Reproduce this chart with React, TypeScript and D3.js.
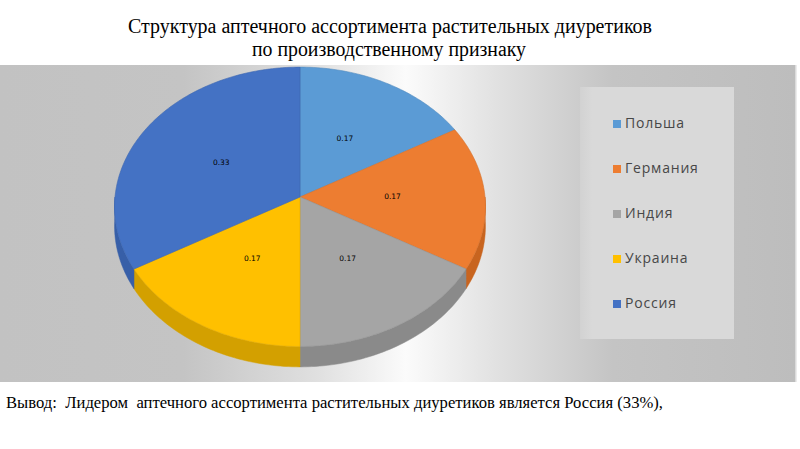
import { FC, useEffect, useRef } from 'react';
import * as d3 from 'd3';

const countries = ['Польша', 'Германия', 'Индия', 'Украина', 'Россия'];
// number of products per country of origin (labels show the share: 0.17 / 0.33)
const productCounts = [1, 1, 1, 1, 2];
const topColors = ['#5B9BD5', '#ED7D31', '#A5A5A5', '#FFC000', '#4472C4'];
const sideColors = ['#4a86bd', '#c8641f', '#8a8a8a', '#d3a000', '#375fa8'];
const titleLines = [
  'Структура аптечного ассортимента растительных диуретиков',
  'по производственному признаку',
];
const conclusion = 'Вывод:  Лидером  аптечного ассортимента растительных диуретиков является Россия (33%),';

const W = 800;
const H = 449;

const App: FC = () => {
  const svgRef = useRef<SVGSVGElement>(null);

  useEffect(() => {
    if (!svgRef.current) return;
    const svg = d3.select(svgRef.current);
    svg.selectAll('*').remove();

    const defs = svg.append('defs');

    // background band gradient (bright stripe behind the pie's right half)
    const bg = defs.append('linearGradient')
      .attr('id', 'band-grad')
      .attr('x1', 0).attr('y1', 0).attr('x2', 1).attr('y2', 0);
    [
      [0, '#c2c2c2'], [0.23, '#c4c4c4'], [0.4, '#e0e0e0'], [0.51, '#fbfbfb'],
      [0.62, '#e2e2e2'], [0.77, '#c4c4c4'], [1, '#bdbdbd'],
    ].forEach(([o, c]) => bg.append('stop').attr('offset', o as number).attr('stop-color', c as string));

    const legGrad = defs.append('linearGradient')
      .attr('id', 'legend-grad')
      .attr('x1', 0).attr('y1', 0).attr('x2', 1).attr('y2', 0);
    legGrad.append('stop').attr('offset', 0).attr('stop-color', '#d2d2d2');
    legGrad.append('stop').attr('offset', 0.08).attr('stop-color', '#d9d9d9');
    legGrad.append('stop').attr('offset', 1).attr('stop-color', '#d9d9d9');

    // title
    const title = svg.append('g')
      .style('font-family', '"Liberation Serif", "Times New Roman", serif')
      .style('fill', '#000');
    title.append('text')
      .attr('x', 128).attr('y', 33)
      .attr('font-size', 20)
      .attr('textLength', 524)
      .attr('lengthAdjust', 'spacingAndGlyphs')
      .text(titleLines[0]);
    title.append('text')
      .attr('x', 252).attr('y', 56)
      .attr('font-size', 20)
      .attr('textLength', 274)
      .attr('lengthAdjust', 'spacingAndGlyphs')
      .text(titleLines[1]);

    // chart area
    svg.append('rect')
      .attr('x', 0).attr('y', 65)
      .attr('width', 796).attr('height', 317)
      .attr('fill', 'url(#band-grad)');
    svg.append('line')
      .attr('x1', 796).attr('x2', 796).attr('y1', 65).attr('y2', 382)
      .attr('stroke', '#e6e6e6').attr('stroke-width', 1.5);

    // 3D pie with mild perspective
    const cx = 300;
    const cy = 197;
    const rx = 185;
    const ry = 139;
    const depth = 19;
    const persp = 0.07;

    const project = (a: number, r: number, dz: number): [number, number] => {
      const u = Math.sin(a) * r;
      const v = -Math.cos(a) * r;
      const f = 1 / (1 - persp * v);
      return [cx + rx * u * f, cy + ry * v * f + dz * f];
    };

    const arcPoints = (a0: number, a1: number, r: number, dz: number) => {
      const n = Math.max(2, Math.ceil(Math.abs(a1 - a0) / 0.02));
      return d3.range(n + 1).map(i => project(a0 + (a1 - a0) * (i / n), r, dz));
    };

    const line = d3.line<[number, number]>().x(d => d[0]).y(d => d[1]);

    const pie = d3.pie<number>().sort(null).value(d => d).startAngle(0).endAngle(2 * Math.PI);
    const slices = pie(productCounts);
    const total = d3.sum(productCounts);

    const color = d3.scaleOrdinal<number, string>().domain(d3.range(countries.length)).range(topColors);
    const sideColor = d3.scaleOrdinal<number, string>().domain(d3.range(countries.length)).range(sideColors);

    const pieG = svg.append('g');

    // visible outer wall: front half, angles between PI/2 and 3PI/2
    slices.forEach((s, i) => {
      const a0 = Math.max(s.startAngle, Math.PI / 2);
      const a1 = Math.min(s.endAngle, 1.5 * Math.PI);
      if (a1 <= a0) return;
      const top = arcPoints(a0, a1, 1, 0);
      const bottom = arcPoints(a1, a0, 1, depth);
      pieG.append('path')
        .attr('d', line([...top, ...bottom]) + 'Z')
        .attr('fill', sideColor(i))
        .attr('stroke', sideColor(i))
        .attr('stroke-width', 0.5);
    });

    // top faces
    slices.forEach((s, i) => {
      const pts = [project(0, 0, 0), ...arcPoints(s.startAngle, s.endAngle, 1, 0)];
      pieG.append('path')
        .attr('d', line(pts) + 'Z')
        .attr('fill', color(i))
        .attr('stroke', d3.color(color(i))!.darker(0.3).formatHex())
        .attr('stroke-width', 0.6)
        .attr('stroke-linejoin', 'round');
    });

    // data labels
    slices.forEach((s, i) => {
      const mid = (s.startAngle + s.endAngle) / 2;
      const [lx, ly] = project(mid, 0.5, 0);
      pieG.append('text')
        .attr('x', lx).attr('y', ly)
        .attr('text-anchor', 'middle')
        .attr('dominant-baseline', 'middle')
        .style('font-family', '"DejaVu Sans", sans-serif')
        .style('font-size', '7.5px')
        .style('fill', '#000')
        .text(d3.format('.2f')(productCounts[i] / total));
    });

    // legend
    svg.append('rect')
      .attr('x', 580).attr('y', 87)
      .attr('width', 154).attr('height', 252)
      .attr('fill', 'url(#legend-grad)');

    const legendY = d3.scalePoint<string>().domain(countries).range([124, 304]);
    const legend = svg.append('g');
    countries.forEach((c, i) => {
      const y = legendY(c)!;
      legend.append('rect')
        .attr('x', 613).attr('y', y - 4)
        .attr('width', 8).attr('height', 8)
        .attr('fill', topColors[i]);
      legend.append('text')
        .attr('x', 625).attr('y', y)
        .attr('dominant-baseline', 'middle')
        .style('font-family', '"Open Sans", sans-serif')
        .style('font-size', '14px')
        .style('letter-spacing', '0.8px')
        .style('fill', '#474747')
        .text(c);
    });

    // conclusion
    svg.append('text')
      .attr('x', 6).attr('y', 408)
      .attr('font-size', 16)
      .attr('textLength', 657)
      .attr('lengthAdjust', 'spacingAndGlyphs')
      .style('font-family', '"Liberation Serif", "Times New Roman", serif')
      .style('fill', '#000')
      .style('white-space', 'pre')
      .text(conclusion);
  }, []);

  return (
    <svg
      ref={svgRef}
      width={W}
      height={H}
      style={{ position: 'absolute', left: 0, top: 0, background: '#fff' }}
    />
  );
};

export default App;
